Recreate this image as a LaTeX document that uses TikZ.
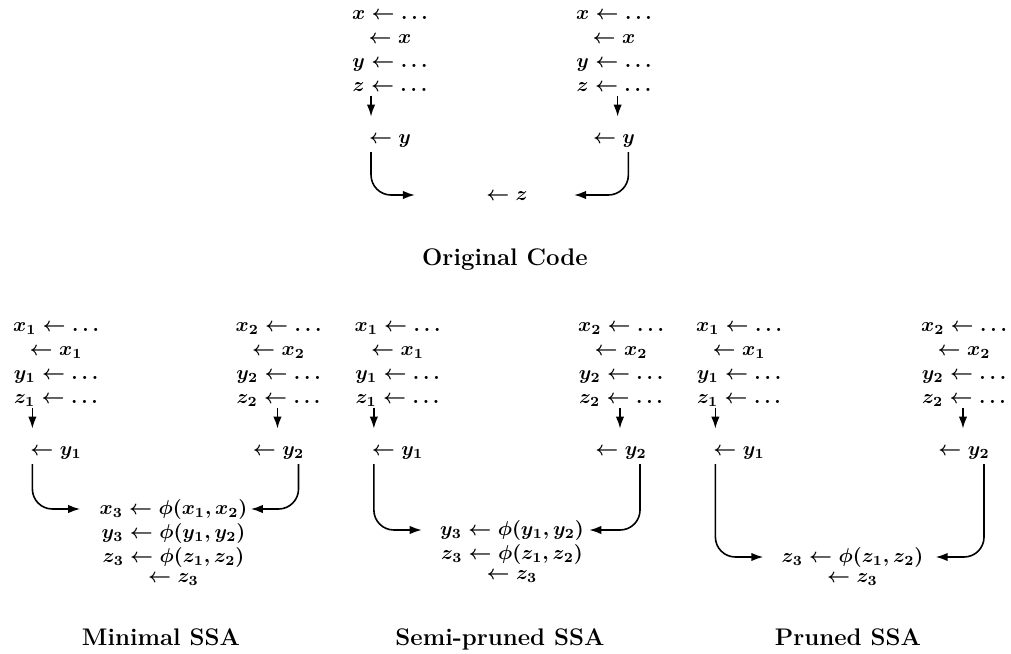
\documentclass[tikz,border=0pt]{standalone}
\usepackage{amsmath}
\usepackage{tikz}
\usetikzlibrary{arrows.meta,positioning,calc}
\newcommand{\defblock}[3]{$\begin{array}[t]{@{}c@{}}
  #1 \leftarrow \ldots\\ \leftarrow #1\\ #2 \leftarrow \ldots\\ #3 \leftarrow \ldots
\end{array}$}
\tikzset{
  stmt/.style={inner sep=0pt, font=\boldmath, anchor=base},
  title/.style={inner sep=0pt, font=\large\bfseries, anchor=base},
  flow/.style={-{Latex[length=6pt,width=4.2pt]}, line width=0.8pt},
  mergeflow/.style={flow, rounded corners=10pt}
}
\begin{document}
\begin{tikzpicture}[x=0.5pt, y=-0.5pt]
  \useasboundingbox (0,0) rectangle (1011,653);
  % original code
  \node[stmt] (defL) at (390,19) {\defblock{x}{y}{z}};
  \node[stmt] (defR) at (614,19) {\defblock{x}{y}{z}};
  \node[stmt, below=18pt of defL] (useL) {$\leftarrow y$};
  \node[stmt, below=18pt of defR] (useR) {$\leftarrow y$};
  \node[stmt] (merge) at (507,200) {$\leftarrow z$};
  \draw[flow] ($(defL.south -| useL.west)+(1.2pt,1.5pt)$) -- ($(useL.north west)+(1.2pt,9pt)$);
  \draw[flow] ($(defR.south -| useR.west)+(12.5pt,1.5pt)$) -- ($(useR.north west)+(12.5pt,9pt)$);
  \draw[mergeflow] ($(useL.south west)+(1.2pt,-2pt)$) |- ($(merge.base west)+(-35.5pt,2.5pt)$);
  \draw[mergeflow] ($(useR.south east)+(-3.5pt,-2pt)$) |- ($(merge.base east)+(23pt,2.5pt)$);
  \node[title] (capOrig) at (505,265) {Original Code};

  % minimal SSA
  \node[stmt] (defL1) at (56,331) {\defblock{x_1}{y_1}{z_1}};
  \node[stmt] (defR1) at (278.5,331) {\defblock{x_2}{y_2}{z_2}};
  \node[stmt, below=18pt of defL1] (useL1) {$\leftarrow y_1$};
  \node[stmt, below=18pt of defR1] (useR1) {$\leftarrow y_2$};
  \node[stmt] (phiMin) at (173.5,514) {$\begin{array}[t]{@{}c@{}}
      x_3 \leftarrow \phi(x_1,x_2)\\ y_3 \leftarrow \phi(y_1,y_2)\\
      z_3 \leftarrow \phi(z_1,z_2)\\[-2pt] \leftarrow z_3\end{array}$};
  \draw[flow] ($(defL1.south -| useL1.west)+(1.2pt,1.5pt)$) -- ($(useL1.north west)+(1.2pt,9pt)$);
  \draw[flow] ($(defR1.south -| useR1.west)+(12.5pt,1.5pt)$) -- ($(useR1.north west)+(12.5pt,9pt)$);
  \draw[mergeflow] ($(useL1.south west)+(1.2pt,-2pt)$) |- ($(phiMin.base west)+(-9.5pt,2.5pt)$);
  \draw[mergeflow] ($(useR1.south east)+(-3pt,-2pt)$) |- ($(phiMin.base east)+(1.5pt,2.5pt)$);
  \node[title] (capMin) at (161,645) {Minimal SSA};

  % semi-pruned SSA
  \node[stmt] (defL2) at (397.5,331) {\defblock{x_1}{y_1}{z_1}};
  \node[stmt] (defR2) at (621,331) {\defblock{x_2}{y_2}{z_2}};
  \node[stmt, below=18pt of defL2] (useL2) {$\leftarrow y_1$};
  \node[stmt, below=18pt of defR2] (useR2) {$\leftarrow y_2$};
  \node[stmt] (phiSemi) at (512,535) {$\begin{array}[t]{@{}c@{}}
      y_3 \leftarrow \phi(y_1,y_2)\\
      z_3 \leftarrow \phi(z_1,z_2)\\[-2pt] \leftarrow z_3\end{array}$};
  \draw[flow] ($(defL2.south -| useL2.west)+(1.2pt,1.5pt)$) -- ($(useL2.north west)+(1.2pt,9pt)$);
  \draw[flow] ($(defR2.south -| useR2.west)+(12.5pt,1.5pt)$) -- ($(useR2.north west)+(12.5pt,9pt)$);
  \draw[mergeflow] ($(useL2.south west)+(1.2pt,-2pt)$) |- ($(phiSemi.base west)+(-9pt,2.5pt)$);
  \draw[mergeflow] ($(useR2.south east)+(-3.5pt,-2pt)$) |- ($(phiSemi.base east)+(2.5pt,2.5pt)$);
  \node[title] (capSemi) at (500,645) {Semi-pruned SSA};

  % pruned SSA
  \node[stmt] (defL3) at (739,331) {\defblock{x_1}{y_1}{z_1}};
  \node[stmt] (defR3) at (964,331) {\defblock{x_2}{y_2}{z_2}};
  \node[stmt, below=18pt of defL3] (useL3) {$\leftarrow y_1$};
  \node[stmt, below=18pt of defR3] (useR3) {$\leftarrow y_2$};
  \node[stmt] (phiPr) at (852.5,562) {$\begin{array}[t]{@{}c@{}}
      z_3 \leftarrow \phi(z_1,z_2)\\[-2pt] \leftarrow z_3\end{array}$};
  \draw[flow] ($(defL3.south -| useL3.west)+(1.2pt,1.5pt)$) -- ($(useL3.north west)+(1.2pt,9pt)$);
  \draw[flow] ($(defR3.south -| useR3.west)+(12.5pt,1.5pt)$) -- ($(useR3.north west)+(12.5pt,9pt)$);
  \draw[mergeflow] ($(useL3.south west)+(1.2pt,-2pt)$) |- ($(phiPr.base west)+(-9pt,2.5pt)$);
  \draw[mergeflow] ($(useR3.south east)+(-3pt,-2pt)$) |- ($(phiPr.base east)+(6pt,2.5pt)$);
  \node[title] (capPr) at (848,645) {Pruned SSA};
\end{tikzpicture}
\end{document}
